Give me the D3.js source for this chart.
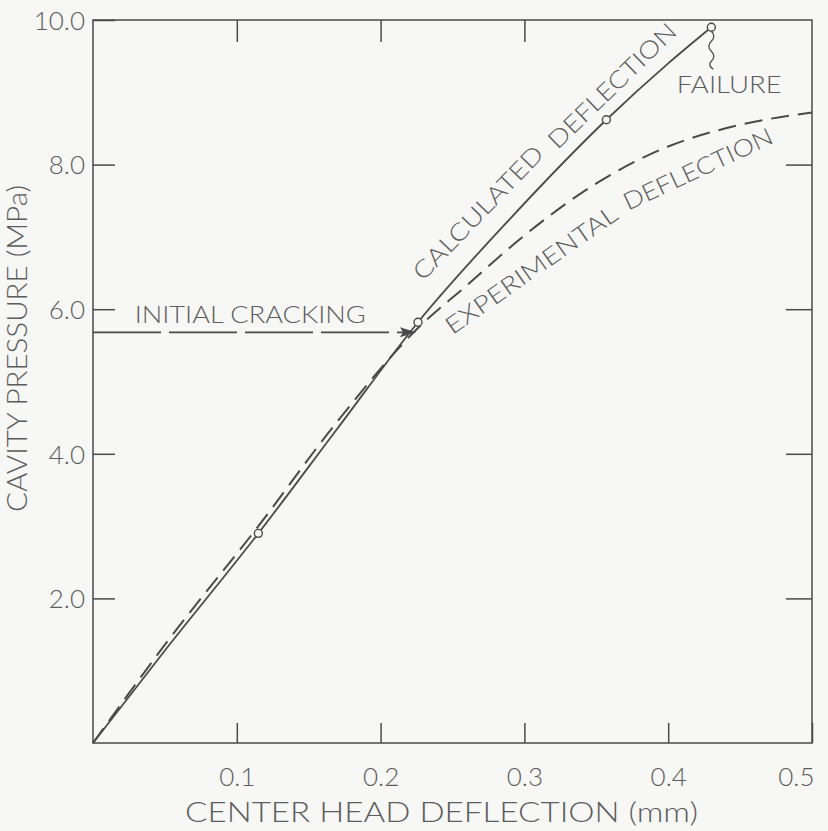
<!DOCTYPE html>
<html>
<head>
<meta charset="utf-8">
<script src="https://cdn.jsdelivr.net/npm/d3@7/dist/d3.min.js"></script>
<style>
  html, body { margin: 0; padding: 0; background: #f7f7f5; }
  svg { display: block; }
  text { font-family: Lato, "Open Sans", "DejaVu Sans", sans-serif; font-weight: 300; fill: #5c5c5c; }
</style>
</head>
<body>
<svg id="chart" width="828" height="831"></svg>
<script>
// ---- data ----
const calcX = [0, 0.05, 0.115, 0.17, 0.226, 0.29, 0.357, 0.40, 0.43];
const calcY = [0, 1.28, 2.90, 4.35, 5.82, 7.25, 8.62, 9.40, 9.90];
const expX  = [0, 0.05, 0.115, 0.17, 0.226, 0.26, 0.30, 0.35, 0.40, 0.45, 0.50];
const expY  = [0, 1.36, 3.00, 4.45, 5.74, 6.33, 7.02, 7.74, 8.25, 8.55, 8.72];
const markerX = [0.115, 0.226, 0.357, 0.43];
const markerY = [2.90, 5.82, 8.62, 9.90];
const crackPressure = 5.68;
const crackDeflection = 0.226;
const xTicks = [0.1, 0.2, 0.3, 0.4, 0.5];
const yTicks = [2, 4, 6, 8, 10];
const xTickLabels = ["0.1", "0.2", "0.3", "0.4", "0.5"];
const yTickLabels = ["2.0", "4.0", "6.0", "8.0", "10.0"];
const xTitle = "CENTER HEAD DEFLECTION (mm)";
const yTitle = "CAVITY PRESSURE (MPa)";
const labelText = ["CALCULATED", "DEFLECTION", "EXPERIMENTAL", "DEFLECTION", "FAILURE", "INITIAL CRACKING"];
const labelX = [0.2295, 0.323, 0.250, 0.372, 0.406, 0.029];
const labelY = [6.38, 8.20, 5.64, 7.36, 8.99, 5.81];
const labelAngle = [-46, -44, -35, -25, 0, 0];
const labelLen = [176, 168, 204, 162, 105, 231];

// ---- layout ----
const svg = d3.select("#chart");
const L = 93, R = 812, T = 20, B = 743;
const x = d3.scaleLinear().domain([0, 0.5]).range([L, R]);
const y = d3.scaleLinear().domain([0, 10]).range([B, T]);
const ink = "#4a4a4a";

// frame
svg.append("rect").attr("x", L).attr("y", T).attr("width", R - L).attr("height", B - T)
  .attr("fill", "none").attr("stroke", ink).attr("stroke-width", 1.5);

// axes
const fmtX = d => xTickLabels[xTicks.indexOf(d)];
const fmtY = d => yTickLabels[yTicks.indexOf(d)];

const gx = svg.append("g").attr("transform", `translate(0,${B})`)
  .call(d3.axisBottom(x).tickValues(xTicks).tickFormat(fmtX).tickSizeInner(-20).tickSizeOuter(0).tickPadding(25));
const gy = svg.append("g").attr("transform", `translate(${L},0)`)
  .call(d3.axisLeft(y).tickValues(yTicks).tickFormat(fmtY).tickSizeInner(-22).tickSizeOuter(0).tickPadding(8));
const gt = svg.append("g").attr("transform", `translate(0,${T})`)
  .call(d3.axisTop(x).tickValues(xTicks.slice(0, 3)).tickFormat("").tickSizeInner(-22).tickSizeOuter(0));
const gr = svg.append("g").attr("transform", `translate(${R},0)`)
  .call(d3.axisRight(y).tickValues(yTicks.slice(0, 4)).tickFormat("").tickSizeInner(-26).tickSizeOuter(0));

[gx, gy, gt, gr].forEach(g => {
  g.select(".domain").remove();
  g.selectAll(".tick line").attr("stroke", ink).attr("stroke-width", 1.5);
  g.selectAll(".tick text").attr("fill", "#5c5c5c").style("font-size", "26px")
   .style("font-family", "Lato, 'Open Sans', sans-serif").style("font-weight", 300);
});
gx.selectAll(".tick text").filter(d => d === 0.5).attr("text-anchor", "end").attr("x", 2);
gy.selectAll(".tick text").attr("dy", "0.36em");

// axis titles
svg.append("text").attr("x", (185 + 698) / 2).attr("y", 822).attr("text-anchor", "middle")
  .style("font-size", "28px").attr("textLength", 513).attr("lengthAdjust", "spacingAndGlyphs").text(xTitle);
svg.append("text").attr("transform", `translate(27,${(185 + 512) / 2}) rotate(-90)`).attr("text-anchor", "middle")
  .style("font-size", "28px").attr("textLength", 327).attr("lengthAdjust", "spacingAndGlyphs").text(yTitle);

// curves
const line = d3.line().x(d => x(d[0])).y(d => y(d[1])).curve(d3.curveMonotoneX);
svg.append("path").datum(expX.map((v, i) => [v, expY[i]])).attr("d", line)
  .attr("fill", "none").attr("stroke", ink).attr("stroke-width", 2).attr("stroke-dasharray", "18,9");
svg.append("path").datum(calcX.map((v, i) => [v, calcY[i]])).attr("d", line)
  .attr("fill", "none").attr("stroke", ink).attr("stroke-width", 1.8);

// markers
svg.selectAll("circle.m").data(markerX.map((v, i) => [v, markerY[i]])).enter().append("circle")
  .attr("class", "m").attr("cx", d => x(d[0])).attr("cy", d => y(d[1])).attr("r", 4)
  .attr("fill", "#f7f7f5").attr("stroke", ink).attr("stroke-width", 1.4);

// initial cracking arrow
svg.append("line").attr("x1", x(0)).attr("x2", x(crackDeflection) - 10)
  .attr("y1", y(crackPressure)).attr("y2", y(crackPressure))
  .attr("stroke", ink).attr("stroke-width", 1.6).attr("stroke-dasharray", "68,8");
const tipX = x(crackDeflection) - 2, tipY = y(crackPressure);
svg.append("path").attr("d", `M${tipX},${tipY} L${tipX - 16},${tipY - 5} L${tipX - 13},${tipY} L${tipX - 16},${tipY + 5} Z`)
  .attr("fill", ink);

// failure squiggle
const fx = x(markerX[3]), fy = y(markerY[3]);
svg.append("path")
  .attr("d", `M${fx},${fy + 4} q5,5 0,10 q-5,5 0,10 q5,5 0,10 q-4,4 2,8`)
  .attr("fill", "none").attr("stroke", ink).attr("stroke-width", 1.3);

// labels
labelText.forEach((t, i) => {
  svg.append("text")
    .attr("transform", `translate(${x(labelX[i])},${y(labelY[i])}) rotate(${labelAngle[i]})`)
    .style("font-size", "24px")
    .attr("textLength", labelLen[i]).attr("lengthAdjust", "spacingAndGlyphs")
    .text(t);
});
</script>
</body>
</html>
